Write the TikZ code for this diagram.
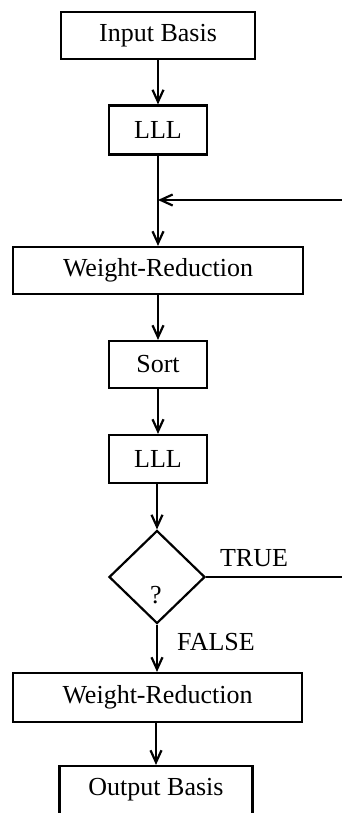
\documentclass[tikz,border=0pt]{standalone}
\usepackage{fontspec}
\setmainfont{Liberation Serif}
\usetikzlibrary{shapes.geometric,arrows.meta}
\begin{document}
\begin{tikzpicture}[x=1pt,y=-1pt,
  every node/.style={font=\fontsize{26}{30}\selectfont},
  box/.style={draw,line width=2.2pt,inner sep=0pt,minimum height=47pt},
  dec/.style={draw,line width=2.2pt,diamond,inner sep=0pt,minimum width=96pt,minimum height=93pt},
  lbl/.style={inner sep=0pt},
  conn/.style={line width=2.2pt},
  arr/.style={conn,-{Straight Barb[length=12pt,width=11pt,line width=2.2pt]}}]
\useasboundingbox (0,0) rectangle (342,813);
\node[box,minimum width=194pt] (in) at (158,35.5) {Input Basis};
\node[box,minimum width=98pt,minimum height=49pt] (lll1) at (158,130) {LLL};
\node[box,minimum width=290pt] (wr1) at (158,270.5) {Weight-Reduction};
\node[box,minimum width=98pt] (sort) at (158,364.5) {Sort};
\node[box,minimum width=98pt,minimum height=48pt] (lll2) at (158,459) {LLL};
\node[dec] (q) at (157,577) {};
\node[lbl] (qm) at (156,595) {?};
\node[box,minimum width=289pt,minimum height=49pt] (wr2) at (157.5,697.5) {Weight-Reduction};
\node[box,minimum width=193pt,minimum height=48pt] (out) at (156,790) {Output Basis};
\node[lbl] (true) at (254,558) {TRUE};
\node[lbl] (false) at (216,642) {FALSE};
\coordinate (j) at (158,200);
\coordinate (r1) at (342,577);
\coordinate (r2) at (342,200);
\draw[arr] (in) -- (lll1);
\draw[conn] (lll1) -- (j);
\draw[arr] (j) -- (wr1);
\draw[arr] (r2) -- (j);
\draw[conn] (q.east) -- (r1);
\draw[arr] (wr1.south -| sort) -- (sort);
\draw[arr] (sort) -- (lll2);
\draw[arr] (lll2.south -| q) -- (q.north);
\draw[arr] (q.south) -- (q.south |- wr2.north);
\draw[arr] (wr2.south -| out) -- (out);
\end{tikzpicture}
\end{document}
